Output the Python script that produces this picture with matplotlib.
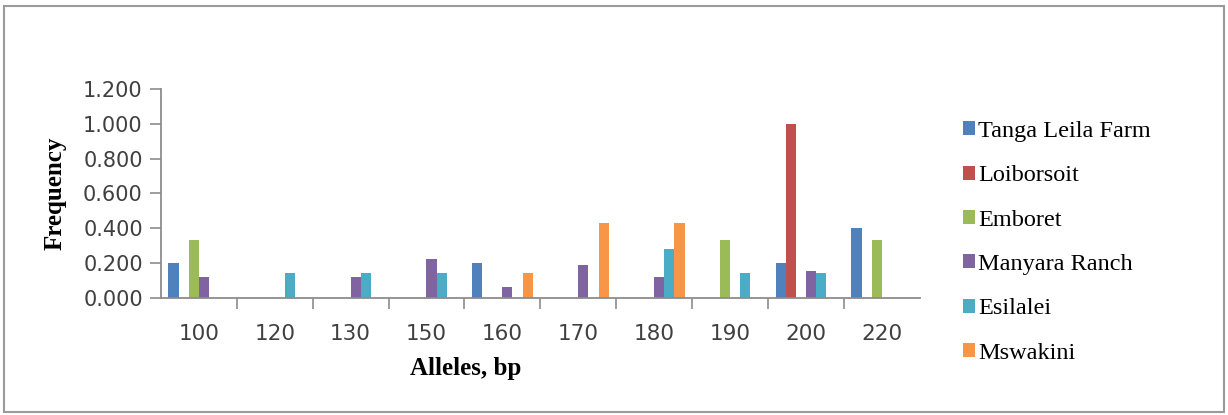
import numpy as np
import matplotlib
matplotlib.use("Agg")
import matplotlib.pyplot as plt
from matplotlib.patches import Rectangle

# allele sizes (bp) on the x axis
alleles = ["100", "120", "130", "150", "160", "170", "180", "190", "200", "220"]

# frequency per population, one value per allele
tanga_leila = [0.200, 0.0, 0.0, 0.0, 0.200, 0.0, 0.0, 0.0, 0.200, 0.400]
loiborsoit = [0.0, 0.0, 0.0, 0.0, 0.0, 0.0, 0.0, 0.0, 1.000, 0.0]
emboret = [0.333, 0.0, 0.0, 0.0, 0.0, 0.0, 0.0, 0.333, 0.0, 0.333]
manyara = [0.118, 0.0, 0.118, 0.220, 0.059, 0.188, 0.118, 0.0, 0.154, 0.0]
esilalei = [0.0, 0.143, 0.143, 0.143, 0.0, 0.0, 0.280, 0.143, 0.143, 0.0]
mswakini = [0.0, 0.0, 0.0, 0.0, 0.143, 0.429, 0.429, 0.0, 0.0, 0.0]

series_names = ["Tanga Leila Farm", "Loiborsoit", "Emboret",
                "Manyara Ranch", "Esilalei", "Mswakini"]
series = [tanga_leila, loiborsoit, emboret, manyara, esilalei, mswakini]
colors = ["#4F81BD", "#C0504D", "#9BBB59", "#8064A2", "#4BACC6", "#F79646"]

fig = plt.figure(figsize=(12.28, 4.15), dpi=100)
fig.patches.append(Rectangle((0.003, 0.007), 0.994, 0.978, transform=fig.transFigure,
                             fill=False, edgecolor="#9a9a9a", linewidth=1.5))

ax = fig.add_axes([0.131, 0.2827, 0.618, 0.5021])

x = np.arange(len(alleles))
w = 1 / 7.5  # excel-style 150% gap width
for i, (name, vals, c) in enumerate(zip(series_names, series, colors)):
    ax.bar(x - 0.5 + 0.75 * w + (i + 0.5) * w, vals, width=w, color=c, label=name)

ax.set_xlim(-0.5, len(alleles) - 0.5)
ax.set_ylim(0, 1.2)
ax.set_yticks(np.arange(0, 1.21, 0.2))
ax.set_yticklabels([f"{v:.3f}" for v in np.arange(0, 1.21, 0.2)])
ax.set_xticks(x)
ax.set_xticklabels(alleles)
ax.set_xticks(np.arange(0.5, len(alleles) - 0.5, 1), minor=True)

for s in ["top", "right"]:
    ax.spines[s].set_visible(False)
for s in ["left", "bottom"]:
    ax.spines[s].set_color("#8c8c8c")
    ax.spines[s].set_linewidth(1.3)

ax.tick_params(axis="x", which="major", length=0, pad=19, labelsize=15.5, labelcolor="#404040")
ax.tick_params(axis="x", which="minor", length=8, color="#8c8c8c", width=1.2)
ax.tick_params(axis="y", length=8, color="#8c8c8c", width=1.2, pad=5,
               labelsize=15, labelcolor="#404040")

# axis titles in Times-like bold serif
fig.text(0.3795, 1 - 368 / 415, "Alleles, bp", fontsize=18, fontweight="bold",
         family="Liberation Serif", ha="center", va="center")
fig.text(0.045, 1 - 193 / 415, "Frequency", fontsize=18, fontweight="bold",
         family="Liberation Serif", ha="center", va="center", rotation=90)

ax.legend(loc="upper left", bbox_to_anchor=(0.776, 0.732), bbox_transform=fig.transFigure,
          frameon=False, prop={"family": "Liberation Serif", "size": 17.5},
          handlelength=0.5, handleheight=0.5, handletextpad=0.15, labelspacing=0.96,
          borderaxespad=0)

fig.savefig("out.png", dpi=100)
